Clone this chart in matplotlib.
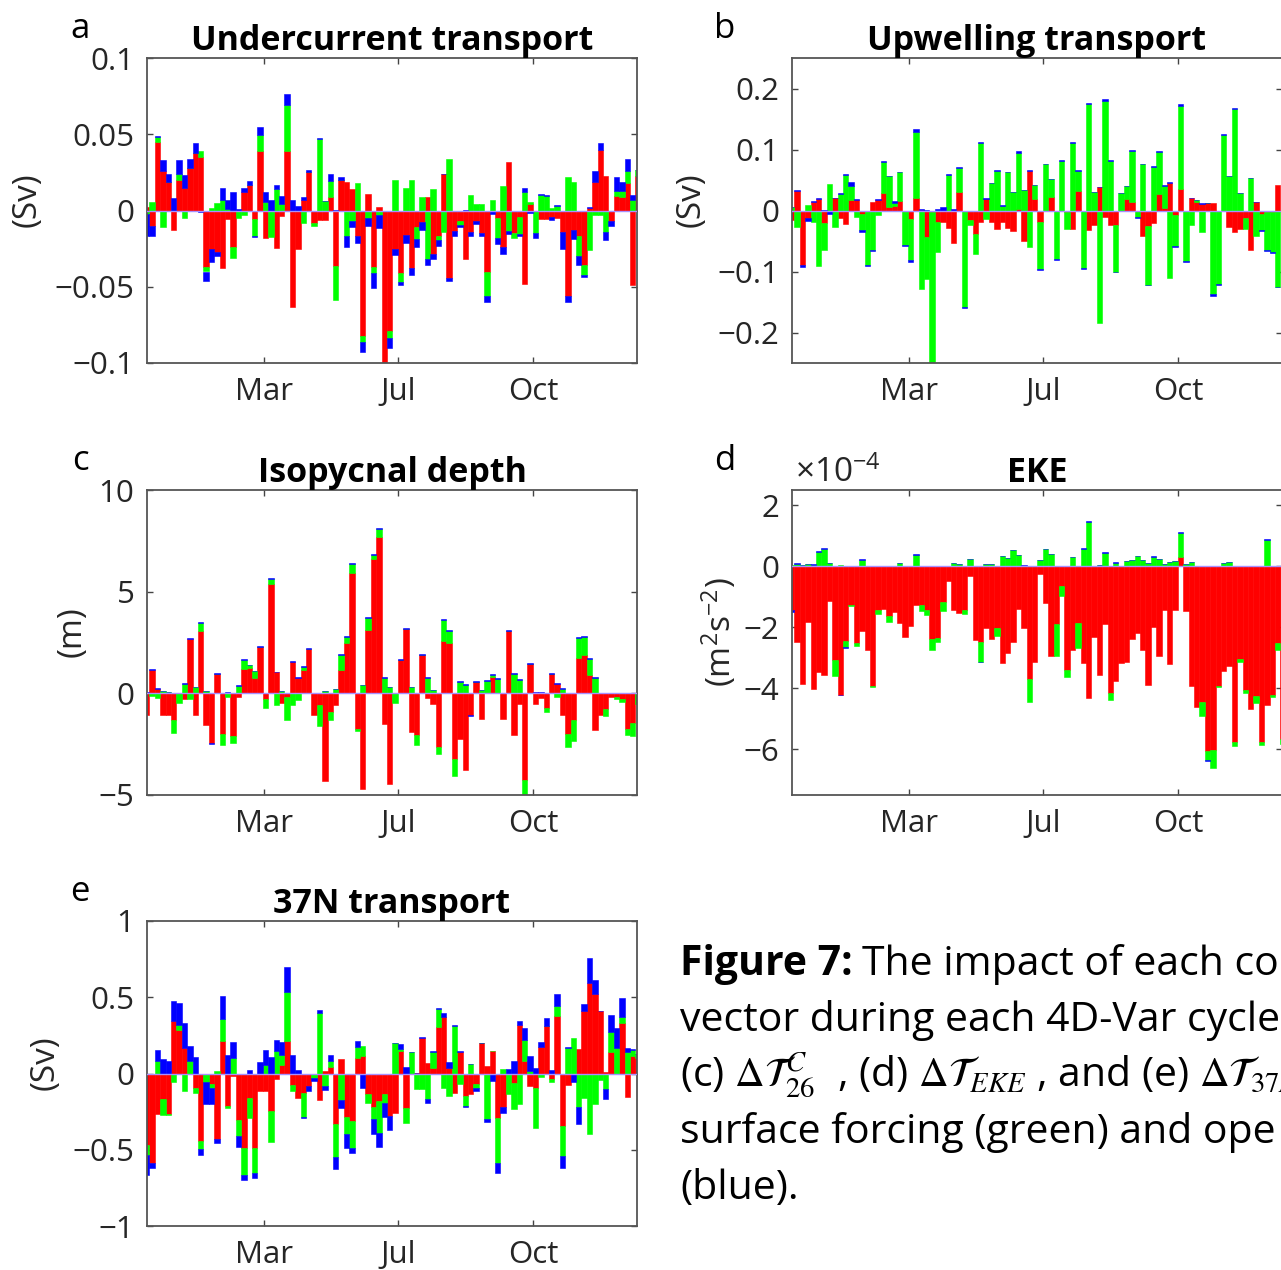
import numpy as np
import matplotlib.pyplot as plt

plt.rcParams['font.family'] = 'Open Sans'
plt.rcParams['mathtext.fontset'] = 'custom'
plt.rcParams['mathtext.rm'] = 'Open Sans'
plt.rcParams['mathtext.it'] = 'Open Sans:italic'
plt.rcParams['axes.unicode_minus'] = True

W, H = 1281, 1270
RED, GREEN, BLUE = (1, 0, 0), (0, 1, 0), (0, 0, 1)
TXT = '#262626'

months = ['Mar', 'Jul', 'Oct']
month_pos = [22.8, 47.6, 72.6]
cycles = np.arange(1, 93)

# (a) undercurrent transport (Sv): initial conditions / surface forcing / open boundaries
uc_ic = [0.002, -0.010, 0.045, 0.026, 0.019, -0.013, 0.020, 0.015, 0.028, 0.038,
         0.035, -0.037, -0.025, -0.027, -0.038, -0.0055, -0.024, 0.0, 0.012, 0.017,
         -0.0055, 0.039, -0.018, 0.0, -0.0247, -0.0033, 0.039, -0.063, -0.025, 0.0072,
         0.025, -0.008, -0.006, -0.0065, 0.0087, -0.0365, 0.020, 0.019, 0.014, -0.017,
         -0.082, 0.011, -0.037, 0.002, -0.100, -0.079, -0.025, -0.041, -0.016, -0.038,
         -0.0105, -0.0077, 0.009, -0.0285, -0.0165, 0.0237, -0.044, -0.0135, -0.0066, -0.032,
         -0.014, -0.0066, -0.015, -0.040, 0.0, -0.005, -0.024, 0.032, -0.015, -0.004,
         -0.048, 0.0044, 0.0, -0.0055, -0.0055, -0.0045, -0.0048, -0.014, -0.056, -0.013,
         -0.017, -0.036, 0.0015, 0.0186, 0.040, 0.0226, -0.007, 0.0094, 0.0088, 0.018,
         -0.049, 0.0226]
uc_sf = [-0.002, 0.0055, 0.003, -0.011, 0.0, 0.0, 0.004, -0.005, 0.0, 0.0,
         0.004, -0.003, 0.0015, 0.005, 0.007, 0.001, -0.007, -0.005, -0.003, 0.0,
         -0.011, 0.0105, 0.0055, -0.0175, 0.0138, 0.0045, 0.030, 0.0, 0.0, -0.008,
         0.0, -0.002, 0.047, 0.006, 0.0105, -0.022, 0.0, -0.017, -0.007, 0.018,
         -0.004, -0.005, -0.004, -0.003, 0.0, -0.0044, 0.020, -0.006, 0.015, 0.020,
         -0.008, 0.009, -0.032, 0.014, -0.003, -0.014, 0.034, 0.0, -0.003, 0.0,
         0.010, 0.004, 0.004, -0.016, 0.007, -0.013, 0.016, -0.0135, -0.003, -0.0115,
         0.012, 0.0015, -0.015, 0.010, 0.0098, 0.0015, 0.003, 0.0, 0.022, 0.0186,
         -0.0127, -0.006, -0.026, -0.003, -0.003, -0.014, 0.0, 0.0037, 0.0037, 0.0077,
         0.0066, 0.0037]
uc_ob = [-0.015, -0.007, 0.001, 0.007, 0.005, 0.008, 0.009, 0.008, 0.006, 0.006,
         -0.001, -0.006, -0.009, -0.003, 0.0075, 0.006, 0.012, 0.001, 0.0025, 0.0025,
         -0.001, 0.0055, 0.0066, 0.0066, 0.003, 0.005, 0.0075, 0.007, 0.003, 0.0015,
         0.0015, 0.0, 0.0005, 0.0005, 0.0046, 0.0005, 0.002, -0.007, -0.004, -0.004,
         -0.007, -0.005, -0.010, -0.0085, 0.0, -0.007, -0.004, -0.002, -0.0055, -0.0045,
         -0.0055, -0.005, -0.0037, -0.0033, -0.0037, 0.0005, -0.002, -0.003, -0.001, 0.0005,
         -0.003, -0.0025, -0.002, -0.0037, -0.0026, -0.004, -0.0044, -0.002, 0.0, -0.001,
         0.0026, -0.0017, -0.0033, 0.0005, 0.0005, -0.0018, 0.0005, -0.011, -0.004, -0.006,
         -0.006, -0.0018, 0.0005, 0.0072, 0.0044, -0.0055, -0.003, 0.0088, 0.006, 0.008,
         0.0033, 0.0005]

# (b) upwelling transport (Sv)
up_ic = [-0.015, 0.0326, -0.0886, -0.013, 0.0147, 0.019, -0.020, 0.0, 0.020, -0.0125,
         -0.022, 0.018, 0.018, -0.0065, 0.0, 0.0136, 0.018, 0.028, 0.0054, 0.008,
         0.0163, 0.0, -0.0147, 0.020, 0.001, -0.0435, -0.003, -0.019, -0.019, -0.028,
         -0.0527, 0.030, 0.0, -0.016, -0.038, -0.019, 0.019, -0.019, -0.030, -0.019,
         -0.029, -0.034, 0.003, -0.050, 0.065, 0.019, -0.019, 0.0, 0.022, 0.0,
         0.0, -0.002, -0.031, 0.0326, 0.0, -0.0326, -0.0245, 0.039, -0.011, -0.0245,
         -0.0245, 0.0, 0.019, 0.0136, 0.0, -0.041, -0.0255, -0.020, 0.027, 0.004,
         0.0446, -0.008, 0.036, 0.0, 0.020, 0.0136, 0.011, 0.012, 0.0125, 0.0,
         0.0, -0.027, -0.035, -0.030, -0.013, -0.065, 0.0136, -0.005, -0.003, -0.003,
         0.042, 0.0]
up_sf = [0.005, -0.027, 0.0, 0.009, -0.019, -0.091, -0.0446, 0.0435, -0.027, 0.027,
         0.0587, 0.0217, -0.010, -0.026, -0.0886, -0.064, -0.008, 0.0516, 0.0505, 0.005,
         0.046, -0.057, -0.067, 0.109, -0.128, -0.068, -0.25, -0.049, 0.0, 0.0587,
         0.0, 0.040, -0.159, -0.008, -0.033, 0.111, -0.0136, 0.0446, 0.065, 0.008,
         0.0625, 0.030, 0.092, 0.033, -0.060, 0.022, -0.077, 0.076, 0.029, -0.080,
         0.081, -0.029, 0.111, 0.0326, -0.095, 0.174, 0.030, -0.185, 0.180, 0.0815,
         -0.076, 0.028, 0.0207, 0.084, -0.011, 0.076, -0.096, 0.0717, 0.069, 0.036,
         -0.110, -0.051, 0.136, -0.083, -0.023, 0.003, -0.035, 0.0, -0.1375, -0.12,
         0.123, 0.056, 0.166, 0.028, -0.018, 0.053, -0.041, -0.027, -0.061, -0.065,
         -0.125, 0.0]
up_ob = [0.001, 0.001, -0.004, -0.004, 0.001, 0.001, 0.001, -0.005, 0.001, 0.001,
         0.001, 0.0065, 0.001, -0.003, -0.003, -0.003, 0.001, 0.001, 0.001, 0.002,
         0.001, -0.002, -0.002, 0.004, 0.001, 0.001, 0.0, 0.002, 0.005, 0.001,
         0.002, 0.001, -0.001, 0.0, 0.0, 0.002, 0.002, 0.001, 0.001, 0.001,
         0.001, 0.001, 0.002, 0.001, 0.002, 0.001, -0.001, 0.001, 0.001, -0.001,
         0.001, 0.0, 0.002, 0.001, -0.001, 0.002, 0.001, 0.0, 0.002, 0.001,
         -0.001, 0.001, 0.001, 0.002, -0.001, 0.001, -0.001, 0.001, 0.002, 0.001,
         0.002, -0.001, 0.002, -0.001, 0.001, 0.001, 0.001, 0.001, -0.003, -0.002,
         0.002, 0.001, 0.002, 0.001, 0.0, 0.001, 0.001, -0.002, -0.002, -0.002,
         -0.001, 0.0]

# (c) isopycnal depth (m)
iso_ic = [-1.08, 1.13, 0.2, -1.05, -1.05, -1.33, 0.0, -0.26, 2.66, -1.08,
          3.07, -1.57, -2.44, 0.97, -1.98, 0.0, -2.1, -0.2, 1.18, 1.25,
          0.75, 2.28, -0.26, 5.39, 1.05, -0.46, -0.18, 1.54, 0.77, 1.13,
          2.16, -1.05, -0.59, -4.33, -0.92, -0.59, 1.13, 2.49, 5.93, -1.77,
          -4.69, 3.13, 6.59, 7.69, -1.52, -4.47, 0.0, 1.62, 3.15, -1.9,
          -2.07, 1.87, -0.23, -0.51, -2.64, 2.56, 2.49, -3.21, -2.26, -3.79,
          -1.08, 0.56, -1.25, 0.0, 0.8, 0.0, -1.25, 3.07, -2.03, -0.51,
          -4.28, 1.46, -0.54, -0.21, -0.72, 0.97, 0.48, -1.08, -1.98, -1.33,
          1.74, 1.9, 0.89, -1.82, -1.08, -0.79, -0.18, -0.18, -0.26, -1.74,
          -1.44, 0.0]
iso_sf = [0.0, -0.13, -0.25, 0.1, 0.05, -0.6, -0.46, 0.48, -0.26, 0.31,
          0.39, 0.1, 0.0, 0.0, -0.54, -0.2, -0.34, 0.34, 0.44, 0.13,
          0.33, 0.0, -0.46, 0.25, -0.59, 0.1, -1.12, -0.59, -0.34, 0.16,
          0.0, 0.0, -1.02, 0.1, -0.38, 0.2, 0.77, 0.28, 0.41, -0.08,
          0.39, 0.57, 0.2, 0.38, 0.75, 0.31, -0.46, 0.0, 0.0, 0.31,
          -0.49, 0.0, 0.75, 0.15, -0.33, 1.03, 0.57, -0.85, 0.56, 0.43,
          0.0, 0.0, 0.15, 0.59, 0.11, 0.69, 0.0, 0.0, 0.97, 0.64,
          -0.74, 0.0, 0.0, 0.0, -0.2, 0.0, -0.18, 0.23, -0.66, -1.02,
          0.98, 0.87, 0.79, 0.75, 0.0, -0.33, 0.0, -0.08, -0.16, -0.33,
          -0.66, -0.51]
iso_ob = [0.05, 0.05, 0.05, 0.0, 0.0, 0.0, 0.0, 0.05, 0.05, 0.0,
          0.05, 0.0, -0.03, 0.05, 0.0, 0.05, 0.0, 0.05, 0.05, 0.03,
          0.03, 0.05, 0.0, 0.05, 0.0, 0.0, 0.0, 0.05, 0.03, 0.05,
          0.05, 0.0, 0.03, 0.0, 0.0, 0.03, 0.05, 0.05, 0.05, 0.0,
          0.03, 0.05, 0.05, 0.05, 0.05, 0.0, 0.0, 0.05, 0.05, 0.0,
          0.0, 0.05, 0.05, 0.0, 0.0, 0.05, 0.05, 0.0, 0.05, 0.05,
          -0.03, 0.05, 0.0, 0.05, 0.05, 0.05, 0.0, 0.05, 0.05, 0.05,
          0.0, 0.05, 0.05, 0.05, 0.0, 0.05, 0.05, 0.03, 0.0, 0.0,
          0.05, 0.05, 0.05, 0.05, 0.03, 0.03, 0.0, 0.0, 0.0, 0.0,
          0.0, 0.0]

# (d) EKE (1e-4 m2 s-2)
eke_ic = [-1.42, -2.49, -3.86, -1.84, -4.04, -3.46, -3.55, -1.13, -3.06, -4.21,
          -2.46, -1.26, -2.51, -2.11, -2.73, -3.93, -1.42, -1.39, -1.64, -1.51,
          -1.86, -2.32, -1.97, -1.26, -1.26, -1.42, -2.4, -2.35, -1.18, -0.49,
          -1.44, -1.53, -1.42, -0.31, -2.43, -2.49, -2.02, -2.4, -2.02, -3.17,
          -2.84, -2.49, -1.4, -2.01, -3.69, -3.15, -0.25, -1.22, -2.93, -1.89,
          -0.66, -3.41, -2.73, -1.86, -3.17, -4.32, -2.33, -3.55, -1.89, -4.17,
          -3.77, -3.17, -3.15, -2.38, -2.19, -2.73, -3.9, -1.99, -2.95, -1.42,
          -3.22, -1.42, 0.3, -1.48, -3.91, -4.61, -4.46, -6.07, -6.03, -3.91,
          -3.44, -3.28, -5.76, -3.03, -4.07, -4.67, -4.24, -5.77, -4.54, -4.21,
          -2.51, -5.68]
eke_sf = [0.05, 0.08, 0.05, 0.06, 0.05, 0.47, 0.58, 0.11, -0.55, 0.03,
          -0.19, -0.05, -0.11, 0.2, 0.02, -0.02, -0.14, 0.0, -0.2, 0.0,
          0.11, 0.0, 0.0, 0.36, -0.22, -0.19, -0.35, -0.13, -0.3, 0.02,
          0.11, 0.08, -0.13, 0.24, 0.0, -0.64, 0.08, 0.06, -0.27, 0.35,
          0.27, 0.52, 0.36, 0.02, -0.77, 0.0, 0.2, 0.55, 0.4, -1.04,
          -0.33, -0.22, 0.31, -0.82, 0.58, 1.44, 0.0, 0.04, 0.44, -0.2,
          0.11, 0.0, 0.16, 0.2, 0.33, 0.2, 0.11, 0.3, 0.25, 0.08,
          0.14, 0.16, 0.8, 0.09, 0.13, 0.02, -0.46, -0.27, -0.58, -0.04,
          0.11, 0.14, -0.14, -0.11, -0.09, 0.02, -0.23, -0.09, 0.87, -0.08,
          -0.22, -0.16]
eke_ob = [-0.09, 0.02, 0.0, 0.02, 0.02, 0.04, 0.03, 0.0, 0.02, -0.02,
          -0.02, 0.0, 0.0, 0.03, 0.0, 0.0, 0.0, 0.02, 0.0, 0.0,
          0.0, 0.0, 0.0, 0.03, 0.0, 0.0, 0.0, 0.02, 0.0, 0.0,
          0.0, 0.0, 0.0, 0.0, 0.0, -0.02, 0.0, 0.0, 0.0, 0.0,
          0.0, 0.02, 0.0, 0.02, 0.0, 0.0, 0.0, 0.02, 0.0, 0.0,
          0.0, 0.0, 0.0, 0.0, 0.02, 0.04, 0.0, 0.0, 0.02, 0.0,
          0.02, 0.0, 0.0, 0.02, 0.0, 0.0, 0.0, 0.02, 0.0, 0.0,
          0.0, 0.02, 0.03, 0.0, 0.0, 0.0, 0.0, -0.03, 0.0, 0.0,
          0.0, 0.0, 0.0, 0.0, 0.0, 0.0, 0.0, 0.0, 0.03, 0.0,
          0.0, 0.0]

# (e) 37N transport (Sv)
n37_ic = [-0.47, -0.585, -0.267, -0.169, -0.263, 0.342, 0.287, 0.164, 0.0, -0.092,
          -0.443, 0.0, -0.07, -0.432, 0.215, -0.213, -0.015, -0.307, -0.487, -0.158,
          -0.487, -0.114, -0.114, -0.246, -0.037, 0.057, 0.215, -0.077, -0.158, -0.125,
          -0.081, 0.0, -0.175, 0.015, 0.044, -0.329, 0.094, -0.285, -0.311, 0.1,
          0.112, -0.136, -0.22, -0.18, -0.136, -0.278, -0.26, 0.145, -0.224, 0.0,
          0.005, 0.232, 0.072, 0.033, 0.307, 0.368, 0.033, -0.125, 0.143, -0.147,
          -0.136, -0.07, 0.197, 0.05, 0.145, -0.29, -0.22, 0.0, -0.064, 0.32,
          0.079, -0.081, -0.092, 0.171, 0.314, -0.037, 0.375, -0.344, -0.075, 0.0,
          0.16, 0.408, 0.592, 0.522, 0.408, 0.013, 0.138, 0.0, 0.33, -0.153,
          0.116, 0.1]
n37_sf = [-0.064, 0.0, 0.079, -0.10, -0.011, -0.059, 0.033, -0.118, 0.079, -0.033,
          -0.05, -0.059, -0.022, 0.015, 0.143, -0.011, 0.099, -0.103, -0.18, -0.132,
          -0.164, 0.0, 0.055, -0.20, 0.149, 0.066, 0.318, -0.037, 0.0, -0.158,
          0.0, -0.03, 0.40, -0.081, 0.039, -0.219, -0.175, -0.11, -0.175, 0.075,
          0.07, -0.055, -0.08, -0.208, -0.055, 0.0, 0.197, 0.015, -0.101, 0.138,
          -0.099, -0.099, -0.169, 0.11, 0.116, -0.092, -0.147, 0.314, -0.07, -0.066,
          0.061, -0.026, 0.0, -0.296, 0.0, -0.296, 0.029, -0.136, -0.171, -0.2,
          0.14, 0.017, -0.268, -0.022, 0.0, -0.022, 0.07, -0.197, 0.167, 0.23,
          -0.22, -0.158, -0.395, -0.2, -0.044, -0.103, 0.136, 0.167, 0.04, 0.138,
          0.037, 0.03]
n37_ob = [-0.13, -0.033, 0.077, 0.094, 0.083, 0.136, 0.14, 0.167, 0.099, 0.105,
          -0.042, -0.143, -0.11, -0.024, 0.149, 0.12, 0.105, -0.072, -0.029, 0.02,
          -0.033, 0.077, 0.099, 0.105, 0.072, 0.081, 0.164, 0.123, 0.022, -0.011,
          -0.033, -0.022, 0.015, -0.029, 0.037, -0.081, -0.048, -0.092, -0.033, 0.04,
          -0.096, 0.0, -0.094, -0.094, -0.094, -0.092, 0.006, 0.033, 0.04, 0.004,
          0.0, 0.005, -0.022, 0.007, 0.007, 0.029, 0.044, 0.005, 0.004, -0.005,
          0.004, -0.018, 0.005, -0.02, -0.048, -0.066, -0.037, 0.029, 0.079, 0.022,
          0.079, 0.099, 0.035, 0.037, 0.048, 0.022, 0.077, -0.081, 0.004, -0.053,
          -0.114, 0.048, 0.167, 0.088, 0.005, -0.066, 0.112, 0.13, 0.125, 0.03,
          0.005, 0.0]


def px_x(p):
    return p / W


def px_y(p):
    return 1 - p / H


def stacked_bars(ax, parts):
    up = np.zeros(len(cycles))
    down = np.zeros(len(cycles))
    for vals, col in zip(parts, (RED, GREEN, BLUE)):
        vals = np.asarray(vals, dtype=float)
        base = np.where(vals >= 0, up, down)
        ax.bar(cycles, vals, width=1.0, bottom=base, color=col,
               edgecolor=col, linewidth=0.4, zorder=2)
        up += np.clip(vals, 0, None)
        down += np.clip(vals, None, 0)
    ax.axhline(0, color='#a890ff', lw=1.0, zorder=3)


def style_axes(ax, ylim, yticks, ylabels):
    ax.set_xlim(1.06, 91.8)
    ax.set_ylim(*ylim)
    ax.set_xticks(month_pos)
    ax.set_xticklabels(months)
    ax.set_yticks(yticks)
    ax.set_yticklabels(ylabels)
    ax.tick_params(direction='in', length=4, width=1.0, color='#444444',
                   top=True, right=True, labelsize=22.5, labelcolor=TXT)
    ax.tick_params(axis='x', pad=10)
    ax.tick_params(axis='y', pad=9)
    for s in ax.spines.values():
        s.set_color('#555555')
        s.set_linewidth(1.3)


fig = plt.figure(figsize=(W / 100, H / 100), dpi=100)

panels = [
    dict(box=(147, 58), parts=(uc_ic, uc_sf, uc_ob), ylim=(-0.1, 0.1),
         yt=[-0.1, -0.05, 0, 0.05, 0.1], yl=['\u22120.1', '\u22120.05', '0', '0.05', '0.1'],
         title='Undercurrent transport', letter='a', ylab='(Sv)', ylab_x=27),
    dict(box=(792, 58), parts=(up_ic, up_sf, up_ob), ylim=(-0.25, 0.25),
         yt=[-0.2, -0.1, 0, 0.1, 0.2], yl=['\u22120.2', '\u22120.1', '0', '0.1', '0.2'],
         title='Upwelling transport', letter='b', ylab='(Sv)', ylab_x=691),
    dict(box=(147, 490), parts=(iso_ic, iso_sf, iso_ob), ylim=(-5, 10),
         yt=[-5, 0, 5, 10], yl=['\u22125', '0', '5', '10'],
         title='Isopycnal depth', letter='c', ylab='(m)', ylab_x=72),
    dict(box=(792, 490), parts=(eke_ic, eke_sf, eke_ob), ylim=(-7.5, 2.5),
         yt=[-6, -4, -2, 0, 2], yl=['\u22126', '\u22124', '\u22122', '0', '2'],
         title='EKE', letter='d', ylab='(m$^{2}$s$^{-2}$)', ylab_x=719),
    dict(box=(147, 921), parts=(n37_ic, n37_sf, n37_ob), ylim=(-1, 1),
         yt=[-1, -0.5, 0, 0.5, 1], yl=['\u22121', '\u22120.5', '0', '0.5', '1'],
         title='37N transport', letter='e', ylab='(Sv)', ylab_x=45),
]

for p in panels:
    left, top = p['box']
    ax = fig.add_axes([px_x(left), px_y(top + 305), 490 / W, 305 / H])
    stacked_bars(ax, p['parts'])
    style_axes(ax, p['ylim'], p['yt'], p['yl'])
    cx = left + 245
    fig.text(px_x(cx), px_y(top - 8), p['title'], ha='center', va='baseline',
             fontsize=24.5, fontweight='bold', color='black')
    fig.text(px_x(left - 67), px_y(top - 29), p['letter'], ha='center',
             va='center', fontsize=25, color='black')
    fig.text(px_x(p['ylab_x']), px_y(top + 142), p['ylab'], rotation=90,
             ha='center', va='center', fontsize=24, color=TXT)

# exponent label of the EKE axis
fig.text(px_x(795), px_y(482), r'$\times$10$^{-4}$', ha='left', va='baseline',
         fontsize=24, color=TXT)

# caption block
cap = dict(fontsize=29.5, color='black', va='baseline', ha='left')
fig.text(px_x(680), px_y(975), 'Figure 7:', fontweight='bold', **cap)
fig.text(px_x(862), px_y(975), 'The impact of each co', **cap)
fig.text(px_x(680), px_y(1031), 'vector during each 4D-Var cycle', **cap)
fig.text(px_x(680), px_y(1087),
         r'(c) $\Delta\mathcal{T}^{C}_{26}$  , (d) $\Delta\mathcal{T}_{EKE}$ , and (e) $\Delta\mathcal{T}_{37N}$',
         math_fontfamily='stix', **cap)
fig.text(px_x(680), px_y(1143), 'surface forcing (green) and ope', **cap)
fig.text(px_x(680), px_y(1199), '(blue).', **cap)

fig.savefig('out.png', dpi=100)
